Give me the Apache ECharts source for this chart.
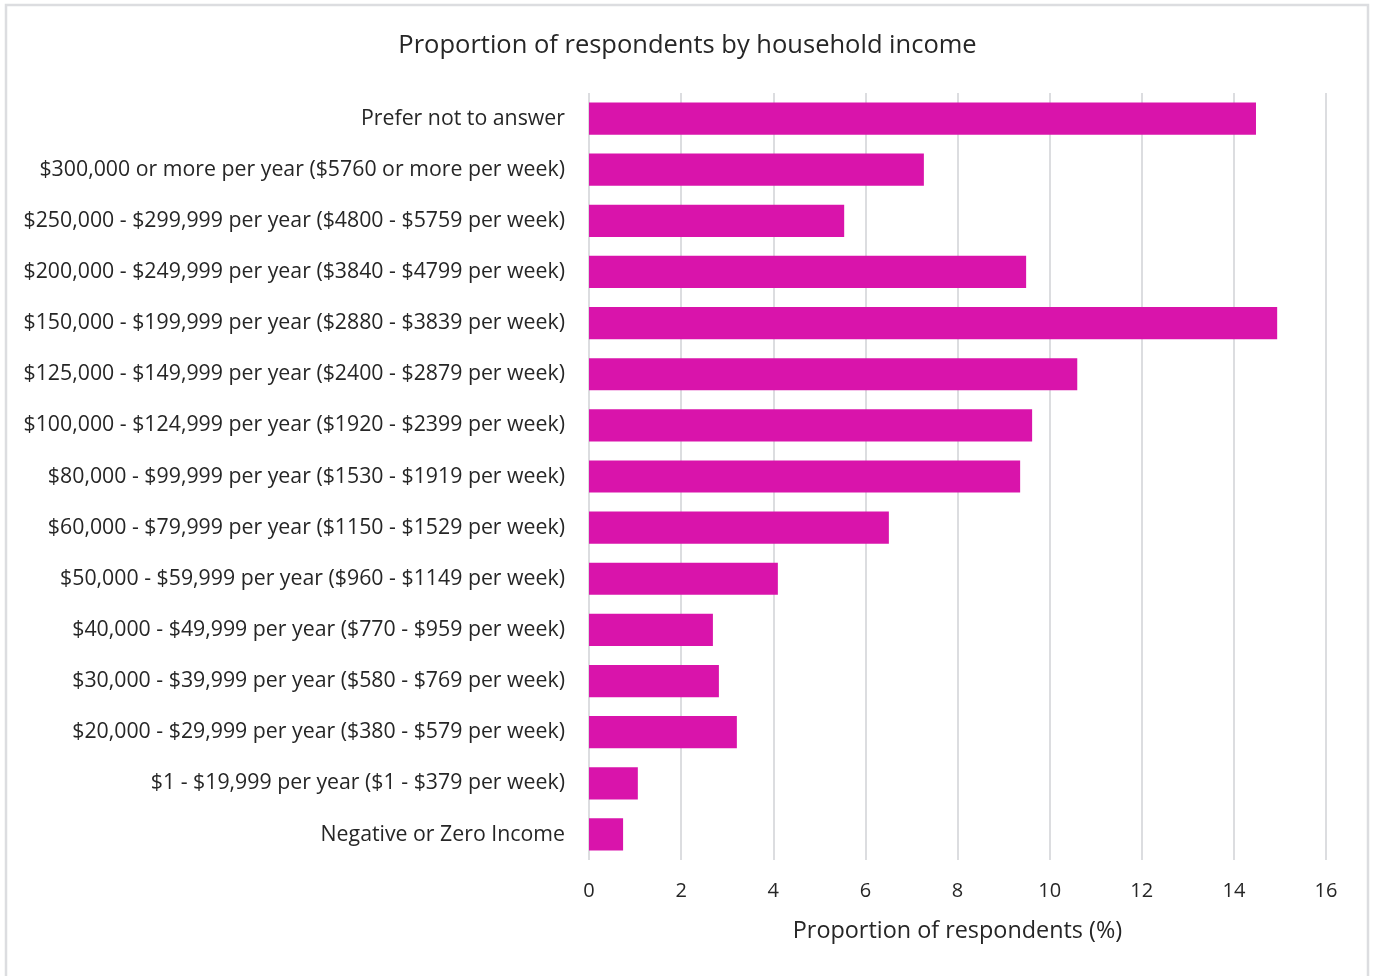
<!DOCTYPE html>
<html>
<head>
<meta charset="utf-8">
<script src="https://cdn.jsdelivr.net/npm/echarts@6/dist/echarts.min.js"></script>
<style>
  html, body { margin: 0; padding: 0; background: #fff; }
  #chart { width: 1375px; height: 976px; }
</style>
</head>
<body>
<div id="chart"></div>
<script>
// Income brackets, listed bottom to top as drawn on the category axis
const categories = [
  'Negative or Zero Income',
  '$1 - $19,999 per year ($1 - $379 per week)',
  '$20,000 - $29,999 per year ($380 - $579 per week)',
  '$30,000 - $39,999 per year ($580 - $769 per week)',
  '$40,000 - $49,999 per year ($770 - $959 per week)',
  '$50,000 - $59,999 per year ($960 - $1149 per week)',
  '$60,000 - $79,999 per year ($1150 - $1529 per week)',
  '$80,000 - $99,999 per year ($1530 - $1919 per week)',
  '$100,000 - $124,999 per year ($1920 - $2399 per week)',
  '$125,000 - $149,999 per year ($2400 - $2879 per week)',
  '$150,000 - $199,999 per year ($2880 - $3839 per week)',
  '$200,000 - $249,999 per year ($3840 - $4799 per week)',
  '$250,000 - $299,999 per year ($4800 - $5759 per week)',
  '$300,000 or more per year ($5760 or more per week)',
  'Prefer not to answer'
];

// Share of respondents in each bracket (%)
const proportions = [
  0.74, 1.06, 3.21, 2.82, 2.69, 4.10, 6.51, 9.36, 9.62, 10.60, 14.94, 9.49, 5.54, 7.27, 14.48
];

const chartTitle = 'Proportion of respondents by household income';
const axisTitle = 'Proportion of respondents (%)';

const FONT = '"Open Sans", "Noto Sans", sans-serif';
const chart = echarts.init(document.getElementById('chart'));

chart.setOption({
  animation: false,
  backgroundColor: '#ffffff',
  textStyle: { fontFamily: FONT },
  title: {
    text: chartTitle,
    left: 'center',
    top: 28,
    textStyle: { fontFamily: FONT, fontSize: 25.5, fontWeight: 'normal', color: '#262626' }
  },
  graphic: [{
    type: 'rect',
    shape: { x: 6, y: 5, width: 1362, height: 990 },
    style: { fill: 'none', stroke: '#dcdde0', lineWidth: 2.5 },
    silent: true
  }],
  grid: { left: 589, right: 49, top: 93, bottom: 116, containLabel: false },
  xAxis: {
    type: 'value',
    min: 0,
    max: 16,
    interval: 2,
    name: axisTitle,
    nameLocation: 'middle',
    nameGap: 60,
    nameTextStyle: { fontFamily: FONT, fontSize: 23.4, color: '#262626' },
    axisLine: { show: false },
    axisTick: { show: false },
    axisLabel: { fontFamily: FONT, fontSize: 20, color: '#262626', margin: 21 },
    splitLine: { show: true, lineStyle: { color: '#dcdde0', width: 2 } }
  },
  yAxis: {
    type: 'category',
    data: categories,
    axisLine: { show: false },
    axisTick: { show: false },
    axisLabel: { fontFamily: FONT, fontSize: 21.3, color: '#262626', margin: 24 }
  },
  series: [{
    type: 'bar',
    data: proportions,
    barCategoryGap: '37%',
    itemStyle: { color: '#d914ab' }
  }]
});
</script>
</body>
</html>
